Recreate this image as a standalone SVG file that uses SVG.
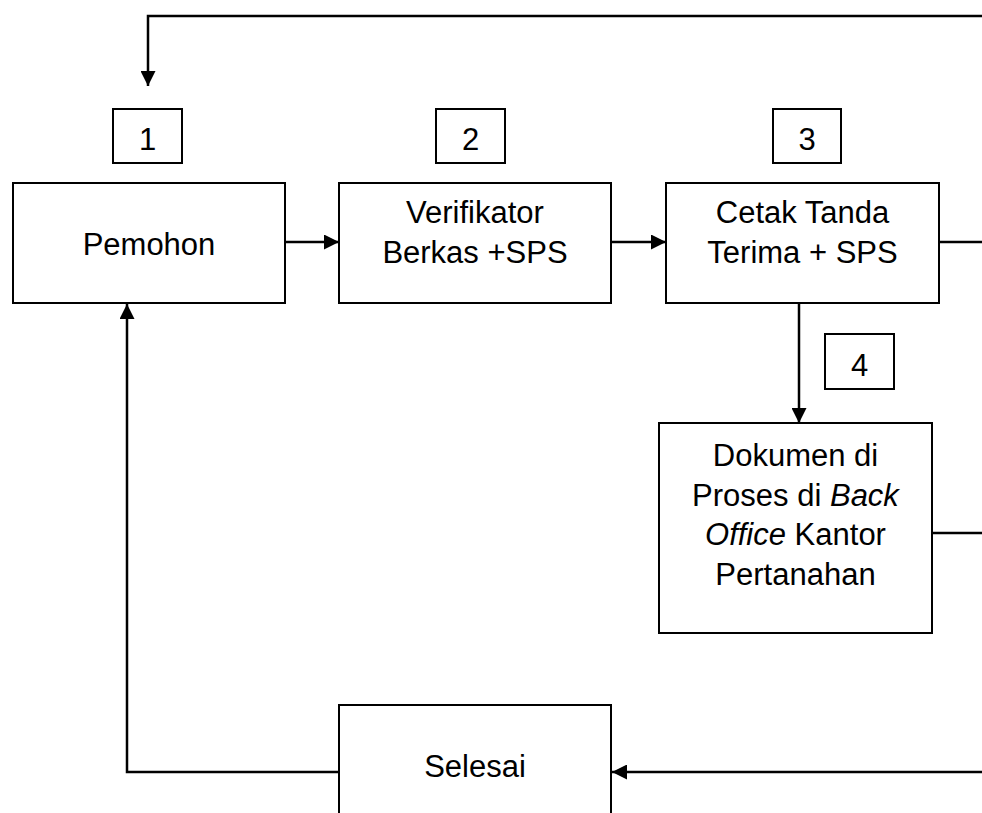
<svg xmlns="http://www.w3.org/2000/svg" width="982" height="813" viewBox="0 0 982 813">
<style>
.box{fill:#fff;stroke:#000;stroke-width:2}
.t{font-family:"Liberation Sans",Arial,sans-serif;font-size:31px;fill:#000;text-anchor:middle}
.c{fill:none;stroke:#000;stroke-width:2.5}
</style>
<defs>
<marker id="ah" viewBox="0 0 15 15" refX="15" refY="7.5" markerWidth="15" markerHeight="15" markerUnits="userSpaceOnUse" orient="auto">
<path d="M0,0 L15,7.5 L0,15 Z" fill="#000"/>
</marker>
</defs>
<rect width="982" height="813" fill="#fff"/>
<g id="connectors">
<path class="c" d="M982,16 H148 V86" marker-end="url(#ah)"/>
<path class="c" d="M285,242 H339" marker-end="url(#ah)"/>
<path class="c" d="M611,242 H666" marker-end="url(#ah)"/>
<path class="c" d="M939,242 H982"/>
<path class="c" d="M799,303 V423" marker-end="url(#ah)"/>
<path class="c" d="M932,533 H982"/>
<path class="c" d="M982,772 H612" marker-end="url(#ah)"/>
<path class="c" d="M339,772 H127 V304" marker-end="url(#ah)"/>
</g>
<g id="label1"><rect class="box" x="113" y="109" width="69" height="54"/><text class="t" x="147.5" y="150">1</text></g>
<g id="label2"><rect class="box" x="436" y="109" width="69" height="54"/><text class="t" x="470.5" y="150">2</text></g>
<g id="label3"><rect class="box" x="773" y="109" width="68" height="54"/><text class="t" x="807" y="150">3</text></g>
<g id="label4"><rect class="box" x="825" y="334" width="69" height="55"/><text class="t" x="859.5" y="376">4</text></g>
<g id="pemohon"><rect class="box" x="13" y="183" width="272" height="120"/><text class="t" x="149" y="255">Pemohon</text></g>
<g id="verifikator"><rect class="box" x="339" y="183" width="272" height="120"/><text class="t" x="475" y="223">Verifikator</text><text class="t" x="475" y="263">Berkas +SPS</text></g>
<g id="cetak"><rect class="box" x="666" y="183" width="273" height="120"/><text class="t" x="802.5" y="223">Cetak Tanda</text><text class="t" x="802.5" y="263">Terima + SPS</text></g>
<g id="dokumen"><rect class="box" x="659" y="423" width="273" height="210"/>
<text class="t" x="795.5" y="466">Dokumen di</text>
<text class="t" x="795.5" y="506">Proses di <tspan font-style="italic">Back</tspan></text>
<text class="t" x="795.5" y="545"><tspan font-style="italic">Office</tspan> Kantor</text>
<text class="t" x="795.5" y="585">Pertanahan</text></g>
<g id="selesai"><rect class="box" x="339" y="705" width="272" height="130"/><text class="t" x="475" y="777">Selesai</text></g>
</svg>
